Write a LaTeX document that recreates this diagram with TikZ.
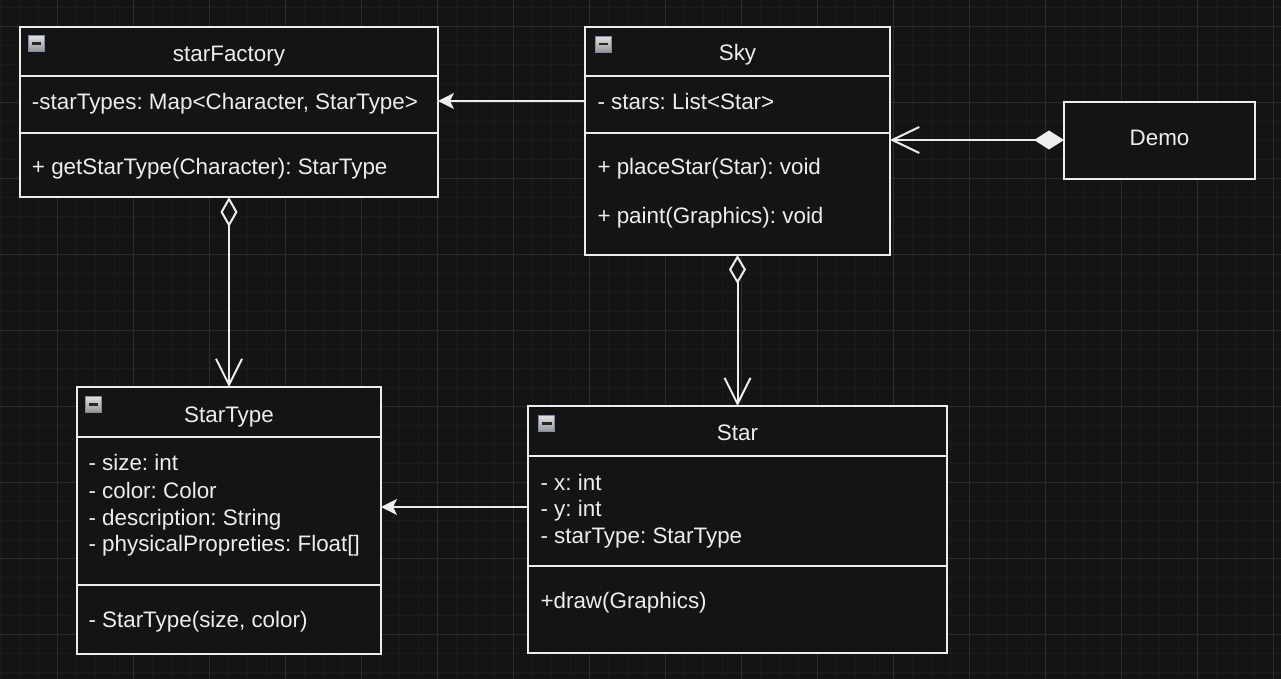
\documentclass[tikz,border=0pt]{standalone}
\usepackage{fontspec}
\setmainfont{Liberation Sans}
\usetikzlibrary{arrows.meta}
\definecolor{bgc}{HTML}{141414}
\definecolor{minorc}{HTML}{1B1B1B}
\definecolor{majorc}{HTML}{2C2C2C}
\definecolor{fg}{HTML}{EDEDED}
\definecolor{iconborder}{HTML}{7E8BA3}
\frenchspacing
\begin{document}
\begin{tikzpicture}[x=0.5pt,y=-0.5pt,
  cls/.style={draw=fg, fill=bgc, line width=1pt, inner sep=0pt, outer sep=0pt, anchor=north west},
  divider/.style={draw=fg, line width=1pt},
  txt/.style={text=fg, inner sep=0pt, outer sep=0pt, font=\fontsize{11.2pt}{13.4pt}\selectfont\frenchspacing},
  icon/.style={draw=iconborder, line width=0.5pt, top color=white!88!black, bottom color=white!58!black, minimum width=8pt, minimum height=8pt, inner sep=0pt, outer sep=0pt},
  iconbar/.style={draw=black!85, line width=1.3pt},
  conn/.style={draw=fg, line width=1pt},
  filledtip/.style={-{Stealth[length=8pt,width=8pt,inset=2pt]}},
]
% background and grid
\useasboundingbox (0,0) rectangle (1281,679);
\fill[bgc] (0,0) rectangle (1281,679);
\foreach \i in {0,...,67} \draw[minorc, line width=0.5pt] (0.3+19*\i,0) -- (0.3+19*\i,679);
\foreach \j in {0,...,35} \draw[minorc, line width=0.5pt] (0,7.3+19*\j) -- (1281,7.3+19*\j);
\foreach \i in {0,...,16} \draw[majorc, line width=0.5pt] (57.3+76*\i,0) -- (57.3+76*\i,679);
\foreach \j in {0,...,8} \draw[majorc, line width=0.5pt] (0,26.3+76*\j) -- (1281,26.3+76*\j);

% helper coordinates for connector heights
\coordinate (h101) at (0,101);
\coordinate (h140) at (0,140);
\coordinate (h507) at (0,507);
\coordinate (d76) at (0,76);
\coordinate (d133) at (0,133);
\coordinate (d437) at (0,437);
\coordinate (d585) at (0,585);
\coordinate (d456) at (0,456);
\coordinate (d566) at (0,566);

% ---------- starFactory ----------
\node[cls, minimum width=209pt, minimum height=85pt] (sf) at (20,27) {};
\draw[divider] (sf.west |- d76) -- (sf.east |- d76);
\draw[divider] (sf.west |- d133) -- (sf.east |- d133);
\node[txt, anchor=base] (sft) at (229,61.7) {starFactory};
\node[txt, anchor=base west] (sfa) at (32,110) {-starTypes: Map<Character, StarType>};
\node[txt, anchor=base west] (sfm) at (32,175) {+ getStarType(Character): StarType};
\node[icon] (sfi) at (36.5,43.5) {};
\draw[iconbar] ([xshift=1.6pt]sfi.west) -- ([xshift=-1.6pt]sfi.east);

% ---------- Sky ----------
\node[cls, minimum width=152.5pt, minimum height=114pt] (sky) at (585,27) {};
\draw[divider] (sky.west |- d76) -- (sky.east |- d76);
\draw[divider] (sky.west |- d133) -- (sky.east |- d133);
\node[txt, anchor=base] (skyt) at (737.5,60.7) {Sky};
\node[txt, anchor=base west] (skya) at (597.5,110) {- stars: List<Star>};
\node[txt, anchor=base west] (skym1) at (597.5,175) {+ placeStar(Star): void};
\node[txt, anchor=base west] (skym2) at (597.5,223.3) {+ paint(Graphics): void};
\node[icon] (skyi) at (603.5,44.2) {};
\draw[iconbar] ([xshift=1.6pt]skyi.west) -- ([xshift=-1.6pt]skyi.east);

% ---------- Demo ----------
\node[cls, minimum width=95.5pt, minimum height=38.5pt] (demo) at (1064,102) {};
\node[txt, anchor=base] (demot) at (1159.5,146) {Demo};

% ---------- StarType ----------
\node[cls, minimum width=152pt, minimum height=133.5pt] (st) at (77,387) {};
\draw[divider] (st.west |- d437) -- (st.east |- d437);
\draw[divider] (st.west |- d585) -- (st.east |- d585);
\node[txt, anchor=base] (stt) at (229,422.3) {StarType};
\node[txt, anchor=base west] (sta1) at (88.5,471) {- size: int};
\node[txt, anchor=base west] (sta2) at (88.5,498.2) {- color: Color};
\node[txt, anchor=base west] (sta3) at (88.5,525.2) {- description: String};
\node[txt, anchor=base west] (sta4) at (88.5,551.7) {- physicalPropreties: Float[]};
\node[txt, anchor=base west] (stm) at (88.5,627.3) {- StarType(size, color)};
\node[icon] (sti) at (93.3,404.3) {};
\draw[iconbar] ([xshift=1.6pt]sti.west) -- ([xshift=-1.6pt]sti.east);

% ---------- Star ----------
\node[cls, minimum width=209.5pt, minimum height=123.5pt] (star) at (528,406) {};
\draw[divider] (star.west |- d456) -- (star.east |- d456);
\draw[divider] (star.west |- d566) -- (star.east |- d566);
\node[txt, anchor=base] (start) at (737.5,441) {Star};
\node[txt, anchor=base west] (stara1) at (540.5,490) {- x: int};
\node[txt, anchor=base west] (stara2) at (540.5,516.7) {- y: int};
\node[txt, anchor=base west] (stara3) at (540.5,544) {- starType: StarType};
\node[txt, anchor=base west] (starm) at (540.5,608.3) {+draw(Graphics)};
\node[icon] (stari) at (546.7,423.7) {};
\draw[iconbar] ([xshift=1.6pt]stari.west) -- ([xshift=-1.6pt]stari.east);

% ---------- connectors ----------
\draw[conn, filledtip] (sky.west |- h101) -- (sf.east |- h101);
\draw[conn, filledtip] (star.west |- h507) -- (st.east |- h507);
\draw[conn, {Diamond[open,length=15pt,width=8.5pt,line width=1pt]}-{Straight Barb[length=13pt,width=13pt,line width=1pt]}] (sf.south) -- (st.north);
\draw[conn, {Diamond[open,length=14.5pt,width=8.5pt,line width=1pt]}-{Straight Barb[length=13pt,width=13pt,line width=1pt]}] (sky.south) -- (star.north);
\draw[conn, {Diamond[length=15pt,width=9.5pt]}-{Straight Barb[length=13.5pt,width=13pt,line width=1pt]}] (demo.west |- h140) -- (sky.east |- h140);
\end{tikzpicture}
\end{document}
